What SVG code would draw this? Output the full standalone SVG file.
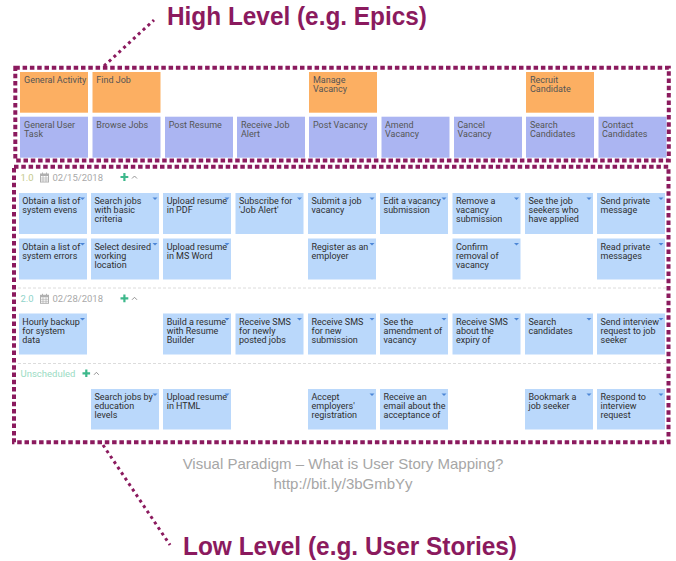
<svg xmlns="http://www.w3.org/2000/svg" width="676" height="561" viewBox="0 0 676 561">
<style>
  .epic{fill:#FCAF62}
  .task{fill:#ABB5F2}
  .story{fill:#BAD8FB}
  .et{font-family:Roboto,"Liberation Sans",sans-serif;font-size:9px;fill:#555555}
  .st{font-family:Roboto,"Liberation Sans",sans-serif;font-size:9px;fill:#2e2e2e}
  .tri{fill:#4D86D6}
  .frame{fill:none;stroke:#8B1A5E;stroke-width:4;stroke-dasharray:4.5 2.8}
  .lead{fill:none;stroke:#8B1A5E;stroke-width:3;stroke-dasharray:3 3.6}
  .sep{stroke:#DCDCDC;stroke-width:1;stroke-dasharray:3 2}
  .hd{font-family:Roboto,"Liberation Sans",sans-serif;font-size:9.5px;fill:#A9A9A9}
  .plus{stroke:#3DB88B;stroke-width:2.2}
  .chev{fill:none;stroke:#888;stroke-width:0.9}
  .big{font-family:"Liberation Sans",Arial,sans-serif;font-weight:bold;fill:#8B1A5E}
  .cap{font-family:"Liberation Sans",Arial,sans-serif;font-size:15px;fill:#A6A6A6;text-anchor:middle}
</style>
<defs>
  <polygon id="dd" class="tri" points="0,0 5,0 2.5,2.6"/>
  <g id="cal">
    <rect x="0.5" y="1.5" width="8" height="8" fill="none" stroke="#B0B0B0" stroke-width="1"/>
    <rect x="0.5" y="1.5" width="8" height="2" fill="#B0B0B0"/>
    <line x1="2.5" y1="0" x2="2.5" y2="2" stroke="#B0B0B0"/>
    <line x1="6.5" y1="0" x2="6.5" y2="2" stroke="#B0B0B0"/>
    <path d="M0.5 5.5H8.5M0.5 7.5H8.5M3 3.5V9.5M6 3.5V9.5" stroke="#B0B0B0" stroke-width="0.7"/>
  </g>
</defs>
<rect width="676" height="561" fill="#FFFFFF"/>

<!-- titles -->
<g id="title-high"><text class="big" x="167" y="25" font-size="25" textLength="260" lengthAdjust="spacingAndGlyphs">High Level (e.g. Epics)</text></g>
<g id="title-low"><text class="big" x="183" y="555" font-size="26" textLength="334" lengthAdjust="spacingAndGlyphs">Low Level (e.g. User Stories)</text></g>
<g id="caption">
  <text class="cap" x="343" y="469">Visual Paradigm – What is User Story Mapping?</text>
  <text class="cap" x="343" y="489">http://bit.ly/3bGmbYy</text>
</g>

<!-- separators -->
<g id="separators">
  <line class="sep" x1="18" y1="288" x2="666" y2="288"/>
  <line class="sep" x1="18" y1="363.5" x2="666" y2="363.5"/>
</g>

<!-- release headers -->
<g id="hdr-1">
  <text class="hd" x="20.5" y="180.5" style="fill:#C5C98C">1.0</text>
  <use href="#cal" x="40" y="172.5"/>
  <text class="hd" x="52.5" y="180.5">02/15/2018</text>
  <path class="plus" d="M120.5 177H128.3M124.4 173.1V180.9"/>
  <path class="chev" d="M132 178.5L134.5 176L137 178.5"/>
</g>
<g id="hdr-2">
  <text class="hd" x="20.5" y="301.8" style="fill:#8FD3C9">2.0</text>
  <use href="#cal" x="40" y="293.8"/>
  <text class="hd" x="52.5" y="301.8">02/28/2018</text>
  <path class="plus" d="M120.5 298.3H128.3M124.4 294.4V302.2"/>
  <path class="chev" d="M132 299.8L134.5 297.3L137 299.8"/>
</g>
<g id="hdr-unscheduled">
  <text class="hd" x="20.5" y="376.8" style="fill:#9ADBC3">Unscheduled</text>
  <path class="plus" d="M82.5 373.3H90.1M86.3 369.5V377.1"/>
  <path class="chev" d="M94 374.8L96.4 372.3L98.8 374.8"/>
</g>

<!-- epics -->
<g id="epic-general-activity"><rect class="epic" x="20" y="72" width="68" height="40.7"/><text class="et" x="24" y="83.3">General Activity</text></g>
<g id="epic-find-job"><rect class="epic" x="92.5" y="72" width="68" height="40.7"/><text class="et" x="96.3" y="83.3">Find Job</text></g>
<g id="epic-manage-vacancy"><rect class="epic" x="309" y="72" width="68" height="40.7"/><text class="et" x="313" y="83.3"><tspan x="313">Manage</tspan><tspan x="313" dy="9">Vacancy</tspan></text></g>
<g id="epic-recruit-candidate"><rect class="epic" x="526" y="72" width="68" height="40.7"/><text class="et" x="530" y="83.3"><tspan x="530">Recruit</tspan><tspan x="530" dy="9">Candidate</tspan></text></g>

<!-- tasks -->
<g id="task-general-user-task"><rect class="task" x="20" y="116.7" width="68" height="41"/><text class="et" y="128"><tspan x="24">General User</tspan><tspan x="24" dy="9">Task</tspan></text></g>
<g id="task-browse-jobs"><rect class="task" x="92.5" y="116.7" width="68" height="41"/><text class="et" y="128"><tspan x="96.3">Browse Jobs</tspan></text></g>
<g id="task-post-resume"><rect class="task" x="165" y="116.7" width="68" height="41"/><text class="et" y="128"><tspan x="168.7">Post Resume</tspan></text></g>
<g id="task-receive-job-alert"><rect class="task" x="237" y="116.7" width="68" height="41"/><text class="et" y="128"><tspan x="241">Receive Job</tspan><tspan x="241" dy="9">Alert</tspan></text></g>
<g id="task-post-vacancy"><rect class="task" x="309" y="116.7" width="68" height="41"/><text class="et" y="128"><tspan x="313">Post Vacancy</tspan></text></g>
<g id="task-amend-vacancy"><rect class="task" x="381.5" y="116.7" width="68" height="41"/><text class="et" y="128"><tspan x="385">Amend</tspan><tspan x="385" dy="9">Vacancy</tspan></text></g>
<g id="task-cancel-vacancy"><rect class="task" x="454" y="116.7" width="68" height="41"/><text class="et" y="128"><tspan x="457.5">Cancel</tspan><tspan x="457.5" dy="9">Vacancy</tspan></text></g>
<g id="task-search-candidates"><rect class="task" x="526" y="116.7" width="68" height="41"/><text class="et" y="128"><tspan x="530">Search</tspan><tspan x="530" dy="9">Candidates</tspan></text></g>
<g id="task-contact-candidates"><rect class="task" x="598.5" y="116.7" width="68" height="41"/><text class="et" y="128"><tspan x="602">Contact</tspan><tspan x="602" dy="9">Candidates</tspan></text></g>

<!-- release 1.0 row A -->
<g id="s-obtain-evens"><rect class="story" x="19" y="193" width="68" height="41"/><text class="st" y="204.3"><tspan x="22.3">Obtain a list of</tspan><tspan x="22.3" dy="9">system evens</tspan></text><use href="#dd" x="80" y="197.5"/></g>
<g id="s-search-basic"><rect class="story" x="91" y="193" width="68" height="41"/><text class="st" y="204.3"><tspan x="94.5">Search jobs</tspan><tspan x="94.5" dy="9">with basic</tspan><tspan x="94.5" dy="9">criteria</tspan></text><use href="#dd" x="152.5" y="197.5"/></g>
<g id="s-upload-pdf"><rect class="story" x="163" y="193" width="68" height="41"/><text class="st" y="204.3"><tspan x="166.7">Upload resume</tspan><tspan x="166.7" dy="9">in PDF</tspan></text><use href="#dd" x="224.5" y="197.5"/></g>
<g id="s-subscribe-alert"><rect class="story" x="235.5" y="193" width="68" height="41"/><text class="st" y="204.3"><tspan x="239">Subscribe for</tspan><tspan x="239" dy="9">'Job Alert'</tspan></text><use href="#dd" x="297" y="197.5"/></g>
<g id="s-submit-vacancy"><rect class="story" x="308" y="193" width="68" height="41"/><text class="st" y="204.3"><tspan x="311.5">Submit a job</tspan><tspan x="311.5" dy="9">vacancy</tspan></text><use href="#dd" x="369.5" y="197.5"/></g>
<g id="s-edit-vacancy"><rect class="story" x="380" y="193" width="68" height="41"/><text class="st" y="204.3"><tspan x="383.5">Edit a vacancy</tspan><tspan x="383.5" dy="9">submission</tspan></text><use href="#dd" x="441.5" y="197.5"/></g>
<g id="s-remove-vacancy"><rect class="story" x="452.5" y="193" width="68" height="41"/><text class="st" y="204.3"><tspan x="456">Remove a</tspan><tspan x="456" dy="9">vacancy</tspan><tspan x="456" dy="9">submission</tspan></text><use href="#dd" x="514" y="197.5"/></g>
<g id="s-see-applied"><rect class="story" x="525" y="193" width="68" height="41"/><text class="st" y="204.3"><tspan x="528.5">See the job</tspan><tspan x="528.5" dy="9">seekers who</tspan><tspan x="528.5" dy="9">have applied</tspan></text><use href="#dd" x="586.5" y="197.5"/></g>
<g id="s-send-private"><rect class="story" x="597" y="193" width="68" height="41"/><text class="st" y="204.3"><tspan x="600.5">Send private</tspan><tspan x="600.5" dy="9">message</tspan></text><use href="#dd" x="658.5" y="197.5"/></g>

<!-- release 1.0 row B -->
<g id="s-obtain-errors"><rect class="story" x="19" y="238.5" width="68" height="41"/><text class="st" y="249.8"><tspan x="22.3">Obtain a list of</tspan><tspan x="22.3" dy="9">system errors</tspan></text><use href="#dd" x="80" y="243"/></g>
<g id="s-select-location"><rect class="story" x="91" y="238.5" width="68" height="41"/><text class="st" y="249.8"><tspan x="94.5">Select desired</tspan><tspan x="94.5" dy="9">working</tspan><tspan x="94.5" dy="9">location</tspan></text><use href="#dd" x="152.5" y="243"/></g>
<g id="s-upload-word"><rect class="story" x="163" y="238.5" width="68" height="41"/><text class="st" y="249.8"><tspan x="166.7">Upload resume</tspan><tspan x="166.7" dy="9">in MS Word</tspan></text><use href="#dd" x="224.5" y="243"/></g>
<g id="s-register-employer"><rect class="story" x="308" y="238.5" width="68" height="41"/><text class="st" y="249.8"><tspan x="311.5">Register as an</tspan><tspan x="311.5" dy="9">employer</tspan></text><use href="#dd" x="369.5" y="243"/></g>
<g id="s-confirm-removal"><rect class="story" x="452.5" y="238.5" width="68" height="41"/><text class="st" y="249.8"><tspan x="456">Confirm</tspan><tspan x="456" dy="9">removal of</tspan><tspan x="456" dy="9">vacancy</tspan></text><use href="#dd" x="514" y="243"/></g>
<g id="s-read-private"><rect class="story" x="597" y="238.5" width="68" height="41"/><text class="st" y="249.8"><tspan x="600.5">Read private</tspan><tspan x="600.5" dy="9">messages</tspan></text><use href="#dd" x="658.5" y="243"/></g>

<!-- release 2.0 -->
<g id="s-hourly-backup"><rect class="story" x="19" y="313.5" width="68" height="41"/><text class="st" y="324.8"><tspan x="22.3">Hourly backup</tspan><tspan x="22.3" dy="9">for system</tspan><tspan x="22.3" dy="9">data</tspan></text><use href="#dd" x="80" y="318"/></g>
<g id="s-build-resume"><rect class="story" x="163" y="313.5" width="68" height="41"/><text class="st" y="324.8"><tspan x="166.7">Build a resume</tspan><tspan x="166.7" dy="9">with Resume</tspan><tspan x="166.7" dy="9">Builder</tspan></text><use href="#dd" x="224.5" y="318"/></g>
<g id="s-sms-jobs"><rect class="story" x="235.5" y="313.5" width="68" height="41"/><text class="st" y="324.8"><tspan x="239">Receive SMS</tspan><tspan x="239" dy="9">for newly</tspan><tspan x="239" dy="9">posted jobs</tspan></text><use href="#dd" x="297" y="318"/></g>
<g id="s-sms-submission"><rect class="story" x="308" y="313.5" width="68" height="41"/><text class="st" y="324.8"><tspan x="311.5">Receive SMS</tspan><tspan x="311.5" dy="9">for new</tspan><tspan x="311.5" dy="9">submission</tspan></text><use href="#dd" x="369.5" y="318"/></g>
<g id="s-see-amendment"><rect class="story" x="380" y="313.5" width="68" height="41"/><text class="st" y="324.8"><tspan x="383.5">See the</tspan><tspan x="383.5" dy="9">amendment of</tspan><tspan x="383.5" dy="9">vacancy</tspan></text><use href="#dd" x="441.5" y="318"/></g>
<g id="s-sms-expiry"><rect class="story" x="452.5" y="313.5" width="68" height="41"/><text class="st" y="324.8"><tspan x="456">Receive SMS</tspan><tspan x="456" dy="9">about the</tspan><tspan x="456" dy="9">expiry of</tspan></text><use href="#dd" x="514" y="318"/></g>
<g id="s-search-candidates"><rect class="story" x="525" y="313.5" width="68" height="41"/><text class="st" y="324.8"><tspan x="528.5">Search</tspan><tspan x="528.5" dy="9">candidates</tspan></text><use href="#dd" x="586.5" y="318"/></g>
<g id="s-send-interview"><rect class="story" x="597" y="313.5" width="68" height="41"/><text class="st" y="324.8"><tspan x="600.5">Send interview</tspan><tspan x="600.5" dy="9">request to job</tspan><tspan x="600.5" dy="9">seeker</tspan></text><use href="#dd" x="658.5" y="318"/></g>

<!-- unscheduled -->
<g id="s-search-education"><rect class="story" x="91" y="389" width="68" height="40.5"/><text class="st" y="400.3"><tspan x="94.5">Search jobs by</tspan><tspan x="94.5" dy="9">education</tspan><tspan x="94.5" dy="9">levels</tspan></text><use href="#dd" x="152.5" y="393.5"/></g>
<g id="s-upload-html"><rect class="story" x="163" y="389" width="68" height="40.5"/><text class="st" y="400.3"><tspan x="166.7">Upload resume</tspan><tspan x="166.7" dy="9">in HTML</tspan></text><use href="#dd" x="224.5" y="393.5"/></g>
<g id="s-accept-registration"><rect class="story" x="308" y="389" width="68" height="40.5"/><text class="st" y="400.3"><tspan x="311.5">Accept</tspan><tspan x="311.5" dy="9">employers'</tspan><tspan x="311.5" dy="9">registration</tspan></text><use href="#dd" x="369.5" y="393.5"/></g>
<g id="s-receive-email"><rect class="story" x="380" y="389" width="68" height="40.5"/><text class="st" y="400.3"><tspan x="383.5">Receive an</tspan><tspan x="383.5" dy="9">email about the</tspan><tspan x="383.5" dy="9">acceptance of</tspan></text><use href="#dd" x="441.5" y="393.5"/></g>
<g id="s-bookmark-seeker"><rect class="story" x="525" y="389" width="68" height="40.5"/><text class="st" y="400.3"><tspan x="528.5">Bookmark a</tspan><tspan x="528.5" dy="9">job seeker</tspan></text><use href="#dd" x="586.5" y="393.5"/></g>
<g id="s-respond-interview"><rect class="story" x="597" y="389" width="68" height="40.5"/><text class="st" y="400.3"><tspan x="600.5">Respond to</tspan><tspan x="600.5" dy="9">interview</tspan><tspan x="600.5" dy="9">request</tspan></text><use href="#dd" x="658.5" y="393.5"/></g>

<!-- frames -->
<g id="frame-high"><rect class="frame" x="15.3" y="67.7" width="653.5" height="92.7"/></g>
<g id="frame-low"><rect class="frame" x="14" y="166.8" width="654.5" height="275.5"/></g>

<!-- connectors -->
<g id="connectors">
  <line class="lead" x1="104" y1="66" x2="154" y2="20"/>
  <line class="lead" x1="103" y1="445" x2="170" y2="545"/>
</g>
</svg>
